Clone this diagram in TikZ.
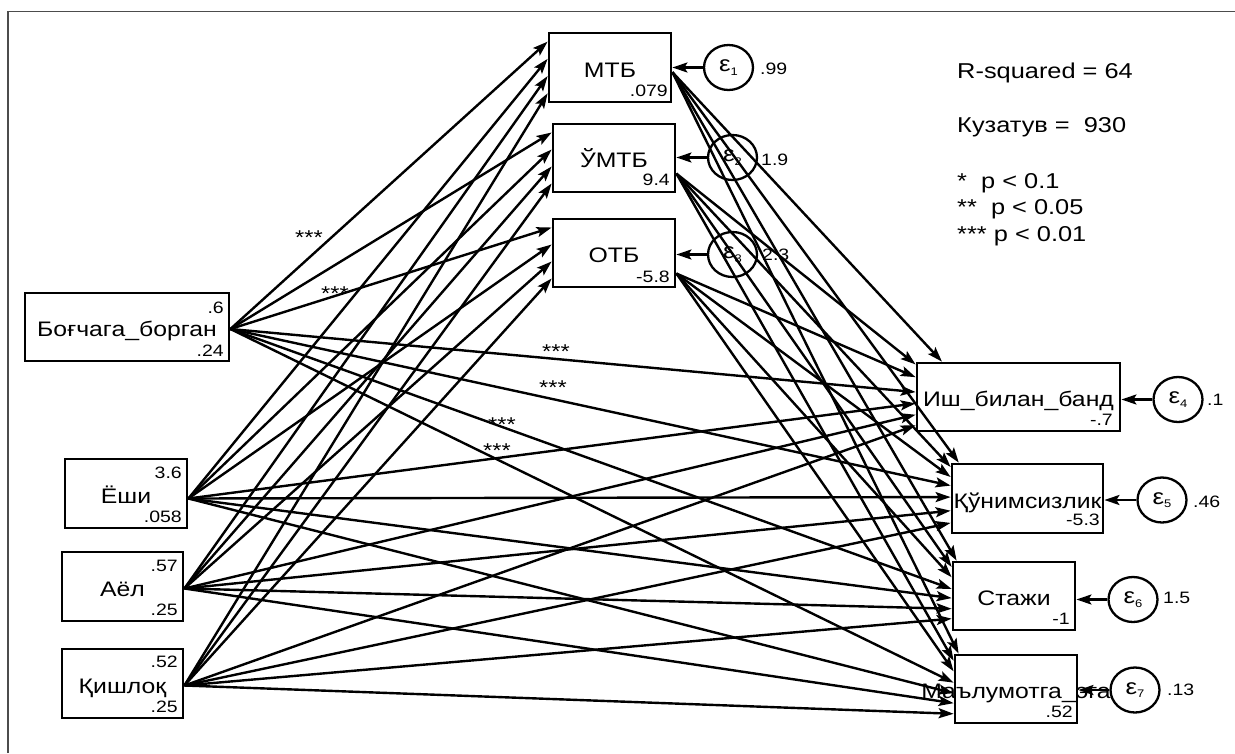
\documentclass[tikz,border=0pt]{standalone}
\usepackage{fontspec}
\usepackage{graphicx}
\setmainfont{Liberation Sans}
\usetikzlibrary{arrows.meta,shapes.geometric,calc}
% box labels are set a little wider than the plain face
\newcommand\boxtext[1]{\makebox[0pt]{\scalebox{1.18}[1]{#1}}}
\newcommand\errsym[1]{ε\raisebox{-3.5pt}{\fontsize{11}{12}\selectfont #1}}

\tikzset{
  varbox/.style={draw, line width=2.8pt, inner sep=0pt, minimum height=68pt,
    font=\fontsize{21}{24}\selectfont, text height=19pt, text depth=0pt},
  errnode/.style={ellipse, draw, line width=2.3pt, inner sep=0pt,
    xscale=1.18, transform shape,
    minimum width=41.5pt, minimum height=45pt,
    font=\fontsize{22}{24}\selectfont},
  stat/.style={font=\fontsize{16.5}{19}\selectfont, inner sep=0pt,
    xscale=1.18, transform shape, text height=11.8pt, text depth=0pt},
  statR/.style={stat, anchor=east},
  statL/.style={stat, anchor=west},
  legendtext/.style={font=\fontsize{21.5}{24}\selectfont, inner sep=0pt,
    xscale=1.18, transform shape, anchor=base west},
  stars/.style={font=\fontsize{20}{22}\selectfont, inner sep=0pt,
    xscale=1.18, transform shape, anchor=base},
  path/.style={line width=2.4pt, -{Stealth[length=15pt, width=10pt, inset=3pt]}},
  framerule/.style={draw=black!70, line width=1.4pt}
}

\begin{document}
\begin{tikzpicture}[x=1pt, y=-1pt]
\useasboundingbox (0,0) rectangle (1235,753);
\draw[framerule] (8,753) -- (8,11.5) -- (1235,11.5);

% exogenous variables
\node[varbox, minimum width=204pt] (bog) at (127,327) {\boxtext{Боғчага\_борган}};
\node[varbox, minimum width=122pt, minimum height=69pt] (yoshi) at (126,493.5) {\boxtext{Ёши}};
\node[varbox, minimum width=121pt, minimum height=69pt] (ayol) at (122.5,586.5) {\boxtext{Аёл}};
\node[varbox, minimum width=121pt, minimum height=69pt] (qishloq) at (122.5,683.5) {\boxtext{Қишлоқ}};

% mediators
\node[varbox, minimum width=122pt, minimum height=69pt] (mtb) at (610,67.5) {\boxtext{МТБ}};
\node[varbox, minimum width=122pt] (umtb) at (614,158) {\boxtext{ЎМТБ}};
\node[varbox, minimum width=122pt] (otb) at (614,253) {\boxtext{ОТБ}};

% outcomes
\node[varbox, minimum width=203pt] (ish) at (1018.5,397) {\boxtext{Иш\_билан\_банд}};
\node[varbox, minimum width=151pt, minimum height=69pt] (qunim) at (1027.5,498.5) {\boxtext{Қўнимсизлик}};
\node[varbox, minimum width=122pt] (staj) at (1014,596) {\boxtext{Стажи}};
\node[varbox, minimum width=122pt] (malum) at (1016,689) {\boxtext{Маълумотга\_эга}};

% means / intercepts and variances
\node[statR] (bogm) at (224,308) {.6};
\node[statR] (bogv) at (224,351) {.24};
\node[statR] (yoshim) at (182,473) {3.6};
\node[statR] (yoshiv) at (182,517) {.058};
\node[statR] (ayolm) at (178,566) {.57};
\node[statR] (ayolv) at (178,610) {.25};
\node[statR] (qishloqm) at (178,662) {.52};
\node[statR] (qishloqv) at (178,707) {.25};
\node[statR] (mtbc) at (668,91) {.079};
\node[statR] (umtbc) at (670,180) {9.4};
\node[statR] (otbc) at (670,277) {-5.8};
\node[statR] (ishc) at (1113,420) {-.7};
\node[statR] (qunimc) at (1100,520) {-5.3};
\node[statR] (stajc) at (1070,619) {-1};
\node[statR] (malumc) at (1073,712) {.52};

% error terms
\node[errnode] (eps1) at (728.5,67.5) {\errsym{1}};
\node[errnode] (eps2) at (732.5,157.5) {\errsym{2}};
\node[errnode] (eps3) at (732.5,254.5) {\errsym{3}};
\node[errnode] (eps4) at (1178,399.5) {\errsym{4}};
\node[errnode] (eps5) at (1162,500) {\errsym{5}};
\node[errnode] (eps6) at (1133,599.5) {\errsym{6}};
\node[errnode] (eps7) at (1135,690) {\errsym{7}};

\node[statL] (eps1v) at (760,69) {.99};
\node[statL] (eps2v) at (761,160) {1.9};
\node[statL] (eps3v) at (762,255) {2.3};
\node[statL] (eps4v) at (1207,400) {.1};
\node[statL] (eps5v) at (1193,502) {.46};
\node[statL] (eps6v) at (1163,598) {1.5};
\node[statL] (eps7v) at (1167,690) {.13};

% legend
\node[legendtext] (rsq) at (957,78) {R-squared = 64};
\node[legendtext] (nobs) at (957,132) {Кузатув =\ \ 930};
\node[legendtext] (sig1) at (957,188) {*\ \ p < 0.1};
\node[legendtext] (sig2) at (957,214) {**\ \ p < 0.05};
\node[legendtext] (sig3) at (957,241) {*** p < 0.01};

% significance marks on paths
\node[stars] (st1) at (309,244) {***};
\node[stars] (st2) at (335,300) {***};
\node[stars] (st3) at (556,358) {***};
\node[stars] (st4) at (553,394) {***};
\node[stars] (st5) at (502,431) {***};
\node[stars] (st6) at (497,457) {***};

% connection points on the sources
\coordinate (bog-out) at ([yshift=-2pt]bog.east);
\coordinate (yoshi-out) at ([yshift=-5pt]yoshi.east);
\coordinate (ayol-out) at ([yshift=-2pt]ayol.east);
\coordinate (qishloq-out) at ([yshift=-2pt]qishloq.east);
\coordinate (mtb-out) at ($(mtb.north east)!0.565!(mtb.south east)$);
\coordinate (umtb-out) at ($(umtb.north east)!0.72!(umtb.south east)$);
\coordinate (otb-out) at ($(otb.north east)!0.79!(otb.south east)$);

% exogenous -> mediators
\foreach \s/\f in {bog/0.14, yoshi/0.38, ayol/0.62, qishloq/0.86} {
  \foreach \t in {mtb, umtb, otb} {
    \draw[path] (\s-out) -- ($(\t.north west)!\f!(\t.south west)$);
  }
}

% exogenous -> outcomes
\foreach \s/\a/\b/\c/\d in {bog/0.43/0.32/0.40/0.41, yoshi/0.59/0.48/0.53/0.56,
    ayol/0.75/0.67/0.68/0.70, qishloq/0.90/0.84/0.82/0.85} {
  \draw[path] (\s-out) -- ($(ish.north west)!\a!(ish.south west)$);
  \draw[path] (\s-out) -- ($(qunim.north west)!\b!(qunim.south west)$);
  \draw[path] (\s-out) -- ($(staj.north west)!\c!(staj.south west)$);
  \draw[path] (\s-out) -- ($(malum.north west)!\d!(malum.south west)$);
}

% mediators -> outcomes
\draw[path] (mtb-out) -- ($(ish.north west)!0.128!(ish.north east)$);
\draw[path] (mtb-out) -- ($(qunim.north west)!0.053!(qunim.north east)$);
\draw[path] (mtb-out) -- ($(staj.north west)!0.04!(staj.north east)$);
\draw[path] (mtb-out) -- ($(malum.north west)!0.04!(malum.north east)$);
\foreach \s/\a/\b/\c/\d in {umtb/0.04/0.06/0.09/0.10, otb/0.22/0.20/0.235/0.25} {
  \draw[path] (\s-out) -- ($(ish.north west)!\a!(ish.south west)$);
  \draw[path] (\s-out) -- ($(qunim.north west)!\b!(qunim.south west)$);
  \draw[path] (\s-out) -- ($(staj.north west)!\c!(staj.south west)$);
  \draw[path] (\s-out) -- ($(malum.north west)!\d!(malum.south west)$);
}

% error terms -> variables
\draw[path] (eps1.west) -- (eps1.west -| mtb.east);
\draw[path] (eps2.west) -- (eps2.west -| umtb.east);
\draw[path] (eps3.west) -- (eps3.west -| otb.east);
\draw[path] (eps4.west) -- (eps4.west -| ish.east);
\draw[path] (eps5.west) -- (eps5.west -| qunim.east);
\draw[path] (eps6.west) -- (eps6.west -| staj.east);
\draw[path] (eps7.west) -- (eps7.west -| malum.east);
\end{tikzpicture}
\end{document}
